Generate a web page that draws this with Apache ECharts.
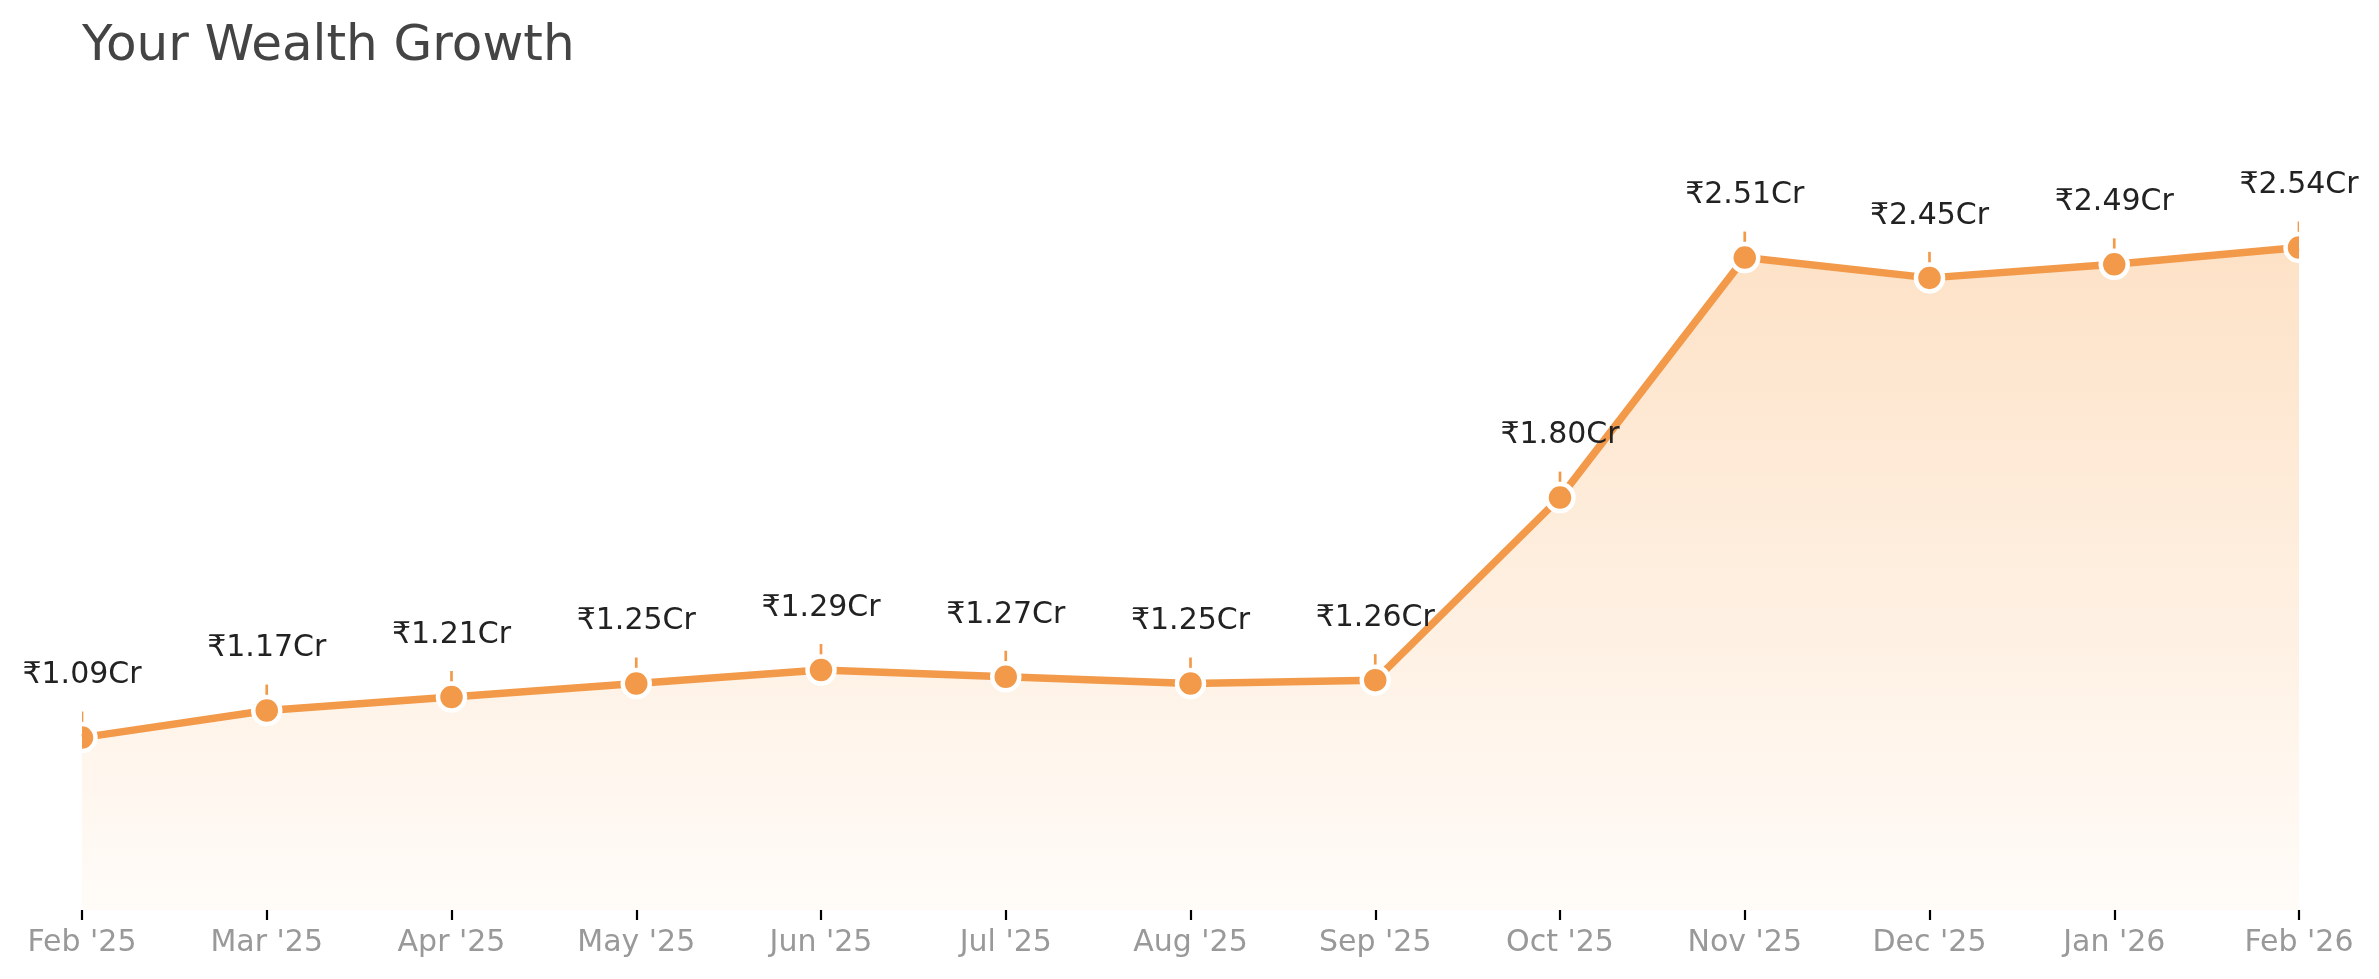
<!DOCTYPE html>
<html>
<head>
<meta charset="utf-8">
<script src="https://cdn.jsdelivr.net/npm/echarts@6/dist/echarts.min.js"></script>
<style>
  html, body { margin: 0; padding: 0; background: #ffffff; }
  #chart { width: 2379px; height: 979px; }
</style>
</head>
<body>
<div id="chart"></div>
<script>
// ---- data ----
const titleText = 'Your Wealth Growth';
const categories = ["Feb '25", "Mar '25", "Apr '25", "May '25", "Jun '25", "Jul '25", "Aug '25", "Sep '25", "Oct '25", "Nov '25", "Dec '25", "Jan '26", "Feb '26"];
const wealthCr = [1.09, 1.17, 1.21, 1.25, 1.29, 1.27, 1.25, 1.26, 1.80, 2.51, 2.45, 2.49, 2.54];
const yRange = [0.58, 2.92];

// ---- style ----
const ORANGE = '#F29A4A';
const FONT = 'DejaVu Sans';

const pointData = wealthCr.map((v, i) => [i, v]);

const chart = echarts.init(document.getElementById('chart'), null, { renderer: 'canvas' });

const option = {
  backgroundColor: '#ffffff',
  animation: false,
  title: {
    text: titleText,
    left: 77,
    top: 17,
    textStyle: { fontFamily: FONT, fontSize: 50, fontWeight: 'normal', color: '#444444' }
  },
  grid: {
    left: 82, right: 80, top: 119, bottom: 69,
    containLabel: false,
    outerBoundsMode: 'none'
  },
  xAxis: {
    type: 'category',
    data: categories,
    boundaryGap: false,
    axisLine: { show: false },
    axisTick: { show: true, length: 10, lineStyle: { color: '#000000', width: 2.2 } },
    axisLabel: { color: '#999999', fontFamily: FONT, fontSize: 30, margin: 18, interval: 0 },
    splitLine: { show: false }
  },
  yAxis: {
    type: 'value',
    min: yRange[0],
    max: yRange[1],
    show: false,
    splitLine: { show: false }
  },
  series: [
    {
      type: 'line',
      data: wealthCr,
      symbol: 'none',
      clip: true,
      z: 2,
      lineStyle: { color: ORANGE, width: 7.5, join: 'round' },
      areaStyle: {
        color: new echarts.graphic.LinearGradient(0, 0, 0, 1, [
          { offset: 0, color: '#FCD5AE' },
          { offset: 1, color: '#FFFAF5' }
        ])
      }
    },
    {
      type: 'custom',
      data: pointData,
      clip: true,
      z: 3,
      encode: { x: 0, y: 1 },
      renderItem: function (params, api) {
        const pt = api.coord([api.value(0), api.value(1)]);
        return {
          type: 'group',
          children: [
            { type: 'rect', shape: { x: pt[0] - 1.35, y: pt[1] - 26, width: 2.7, height: 26 }, style: { fill: ORANGE } },
            { type: 'circle', shape: { cx: pt[0], cy: pt[1], r: 13.5 }, style: { fill: ORANGE, stroke: '#ffffff', lineWidth: 4.5 } }
          ]
        };
      }
    },
    {
      type: 'custom',
      data: pointData,
      clip: false,
      z: 4,
      encode: { x: 0, y: 1 },
      renderItem: function (params, api) {
        const v = api.value(1);
        const pt = api.coord([api.value(0), v]);
        return {
          type: 'text',
          x: pt[0],
          y: pt[1] - 62,
          style: {
            text: '\u20B9' + v.toFixed(2) + 'Cr',
            font: '30px "' + FONT + '"',
            fill: '#222222',
            align: 'center',
            verticalAlign: 'middle'
          }
        };
      }
    }
  ]
};

chart.setOption(option);
</script>
</body>
</html>
